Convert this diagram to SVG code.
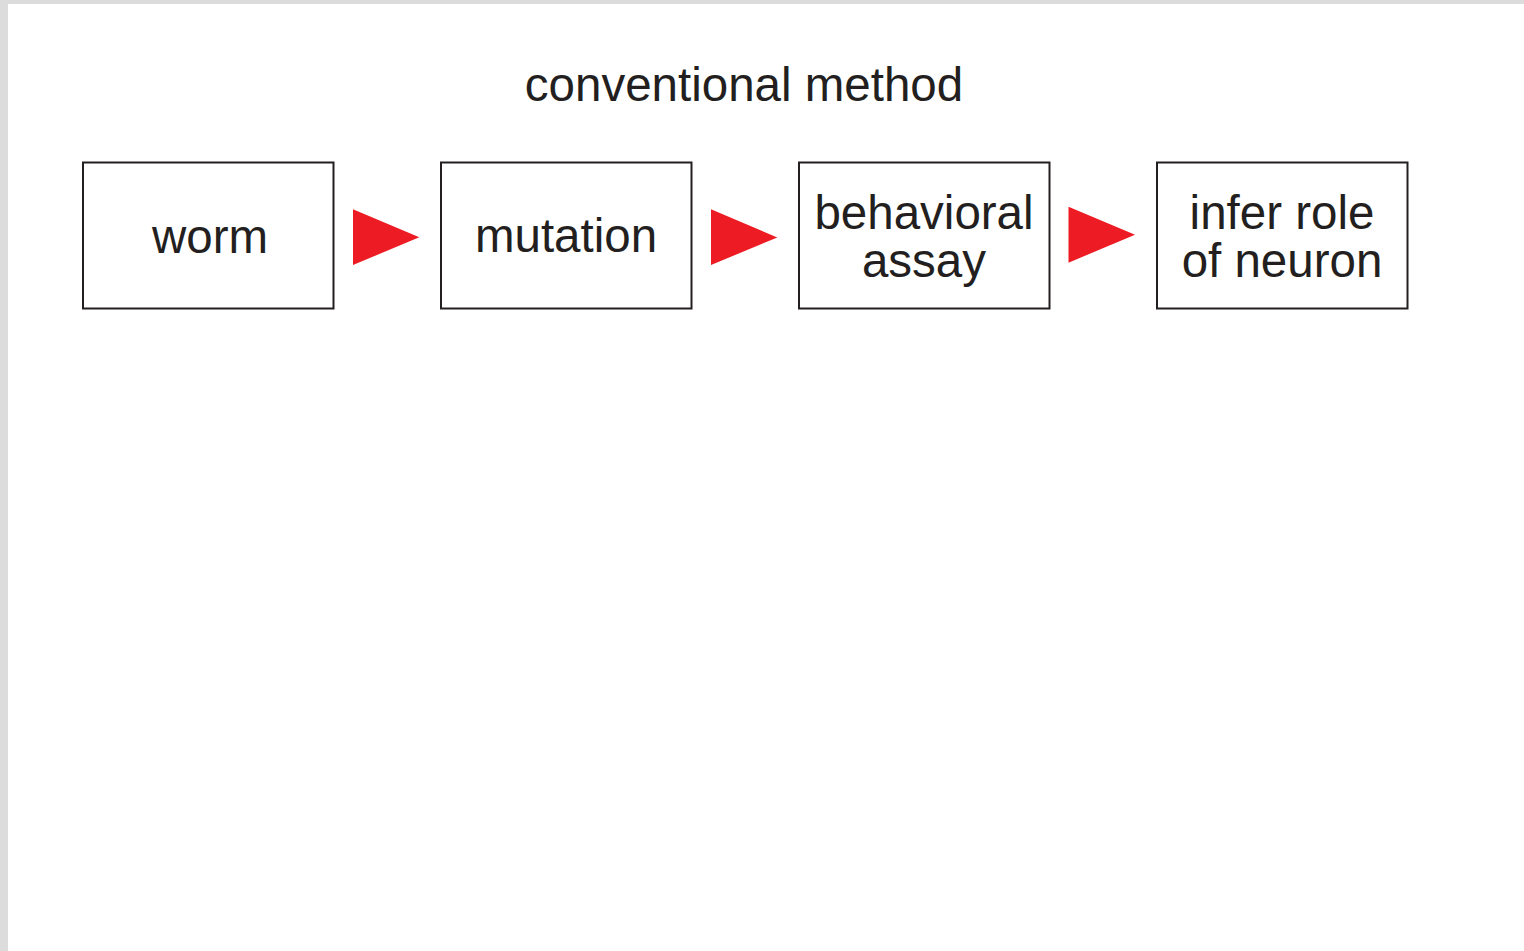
<svg xmlns="http://www.w3.org/2000/svg" width="1524" height="951" viewBox="0 0 1524 951">
<style>
.box{fill:#fff;stroke:#231f20;stroke-width:2}
.t{font-family:"Liberation Sans",Arial,sans-serif;font-size:47.5px;fill:#231f20;text-anchor:middle}
.arr{fill:#ed1c24}
</style>
<rect x="0" y="0" width="1524" height="951" fill="#dcdcdc"/>
<rect x="8" y="4" width="1516" height="947" fill="#fff"/>
<text class="t" x="744" y="101">conventional method</text>
<g id="worm"><rect class="box" x="83" y="162.5" width="250.5" height="146"/><text class="t" x="210" y="253">worm</text></g>
<g id="mutation"><rect class="box" x="441" y="162.5" width="250.5" height="146"/><text class="t" x="566" y="252">mutation</text></g>
<g id="behavioral-assay"><rect class="box" x="799" y="162.5" width="250.5" height="146"/><text class="t" x="924" y="228.5">behavioral</text><text class="t" x="924" y="277">assay</text></g>
<g id="infer-role"><rect class="box" x="1157" y="162.5" width="250.5" height="146"/><text class="t" x="1282" y="228.5">infer role</text><text class="t" x="1282" y="277">of neuron</text></g>
<g id="connectors">
<polygon class="arr" points="353,209.3 419.3,237.3 353,265"/>
<polygon class="arr" points="711,209.3 777.3,237.5 711,265"/>
<polygon class="arr" points="1068.5,206.7 1135,234.7 1068.5,262.7"/>
</g>
</svg>
